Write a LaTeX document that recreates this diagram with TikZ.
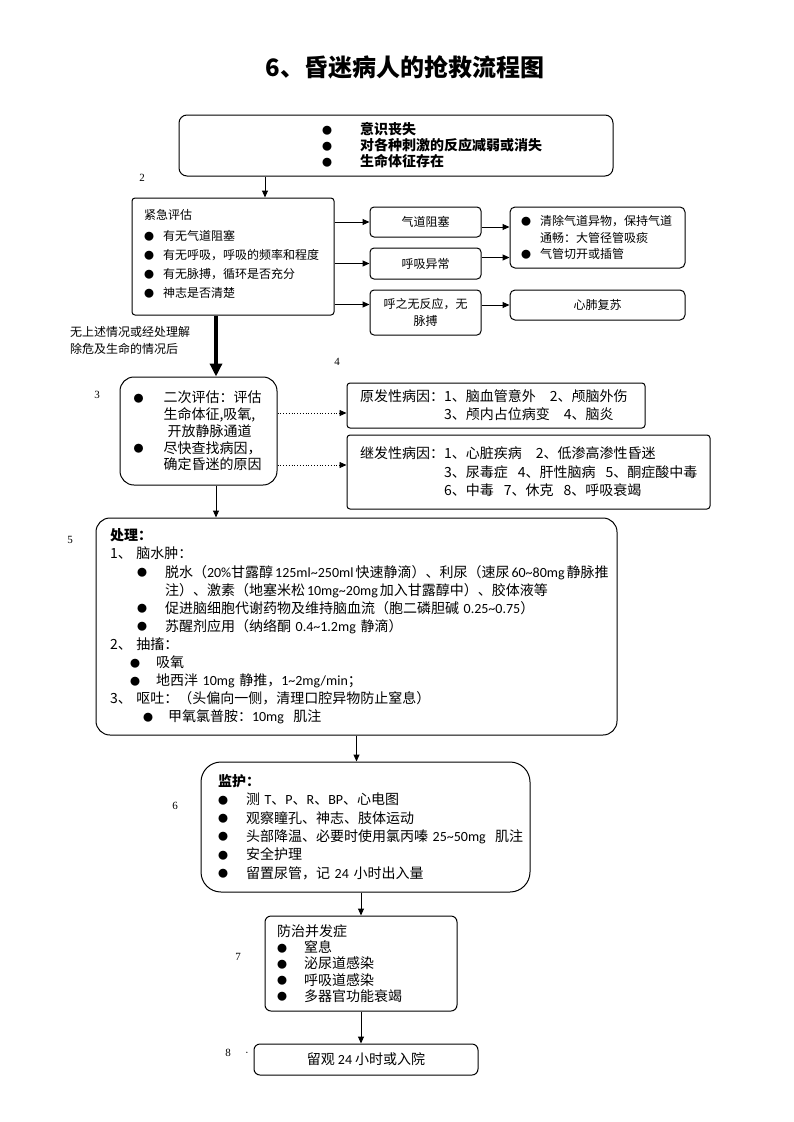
\documentclass[tikz,border=0pt]{standalone}
\usepackage{fontspec}
\setmainfont{Noto Sans CJK SC}
\newfontfamily\numfont{Liberation Serif}
\newfontfamily\carl{Carlito}
\usetikzlibrary{arrows.meta, positioning}
\newcommand{\bul}[1]{\makebox[#1][l]{\raisebox{0.5pt}{\fontsize{10}{10}\selectfont ●}}}
\newcommand{\tld}{\textasciitilde}
\newcommand{\lat}[1]{{\carl #1}}

\begin{document}
\begin{tikzpicture}[x=1pt, y=-1pt,
  frame/.style={draw, line width=1pt, rounded corners=#1, inner ysep=0pt, align=left},
  frame/.default=3pt,
  small/.style={frame=4pt, align=center, font=\fontsize{12}{17}\selectfont},
  arr/.style={-{Triangle[length=7pt,width=6pt]}, line width=1pt},
  bigarr/.style={-{Triangle[length=13pt,width=12pt]}, line width=4pt},
  dotarr/.style={-{Triangle[length=7pt,width=6pt]}, line width=0.8pt, dotted},
  numlabel/.style={font=\numfont\fontsize{11}{11}\selectfont, inner sep=0pt}]
  \useasboundingbox (0,0) rectangle (793,1122);

  % Title
  \node[font=\bfseries\fontsize{24}{28}\selectfont] (title) at (405,67) {6、昏迷病人的抢救流程图};

  % Onset signs
  \node[frame=8pt, minimum width=434pt, minimum height=61pt, text width=414pt, inner xsep=10pt,
        font=\bfseries\fontsize{14}{16}\selectfont] (onset) at (396,145.5) {%
    \hspace*{133pt}\bul{38pt}意识丧失\\
    \hspace*{133pt}\bul{38pt}对各种刺激的反应减弱或消失\\
    \hspace*{133pt}\bul{38pt}生命体征存在};

  % Emergency assessment
  \node[frame=3pt, minimum width=202pt, minimum height=117pt, text width=178pt, inner xsep=12pt,
        font=\fontsize{12}{19}\selectfont] (urgent) at (233,256.5) {%
    紧急评估\\[2pt]
    \bul{19pt}有无气道阻塞\\
    \bul{19pt}有无呼吸，呼吸的频率和程度\\
    \bul{19pt}有无脉搏，循环是否充分\\
    \bul{19pt}神志是否清楚\rule[-6pt]{0pt}{0pt}};

  \node[small, minimum width=111pt, minimum height=30pt] (airway) at (425.5,222) {气道阻塞};
  \node[small, minimum width=111pt, minimum height=31pt] (breath) at (425.5,263.5) {呼吸异常};
  \node[small, minimum width=111pt, minimum height=45pt] (nopulse) at (425.5,312.5) {呼之无反应，无\\脉搏};

  \node[frame=5pt, minimum width=175pt, minimum height=61pt, text width=153pt, inner xsep=11pt,
        font=\fontsize{12}{16.5}\selectfont] (clear) at (597.5,237.5) {%
    \bul{19pt}清除气道异物，保持气道\\
    \hspace*{19pt}通畅：大管径管吸痰\\
    \bul{19pt}气管切开或插管};
  \node[small, frame=5pt, minimum width=175pt, minimum height=30pt] (cpr) at (597.5,305) {心肺复苏};

  \node[anchor=north west, align=left, inner sep=0pt, font=\fontsize{12}{17}\selectfont] (nolife) at (70,326) {%
    无上述情况或经处理解\\除危及生命的情况后};

  % Secondary assessment
  \node[frame=14pt, minimum width=157pt, minimum height=108pt, text width=130pt, inner xsep=13.5pt,
        font=\fontsize{14}{16.75}\selectfont] (second) at (198.5,431) {%
    \bul{30pt}二次评估：评估\\
    \hspace*{30pt}生命体征,吸氧,\\
    \hspace*{34pt}开放静脉通道\\
    \bul{30pt}尽快查找病因，\\
    \hspace*{30pt}确定昏迷的原因};

  \node[frame=3pt, minimum width=298pt, minimum height=45pt, text width=272pt, inner xsep=13pt,
        font=\fontsize{14}{18}\selectfont] (primary) at (496,405.5) {%
    \mbox{原发性病因：1、脑血管意外\hspace{14pt}2、颅脑外伤}\\
    \mbox{\hspace*{84pt}3、颅内占位病变\hspace{14pt}4、脑炎}};
  \node[frame=3pt, minimum width=363pt, minimum height=74pt, text width=337pt, inner xsep=13pt,
        font=\fontsize{14}{18.5}\selectfont] (secondary) at (528.5,472) {%
    \mbox{继发性病因：1、心脏疾病\hspace{14pt}2、低渗高渗性昏迷}\\
    \mbox{\hspace*{84pt}3、尿毒症\hspace{10pt}4、肝性脑病\hspace{10pt}5、酮症酸中毒}\\
    \mbox{\hspace*{84pt}6、中毒\hspace{10pt}7、休克\hspace{10pt}8、呼吸衰竭}};

  % Treatment
  \node[frame=14pt, minimum width=521pt, minimum height=217pt, text width=493pt, inner xsep=14pt,
        font=\fontsize{14}{18.1}\selectfont] (treat) at (356.5,626.5) {%
    {\bfseries 处理：}\\
    1、 脑水肿：\\
    \mbox{\hspace*{27pt}\bul{28pt}脱水（\lat{20\%}甘露醇\hspace{2pt}\lat{125ml\tld 250ml}\hspace{2pt}快速静滴）、利尿（速尿\hspace{2pt}\lat{60\tld 80mg}\hspace{2pt}静脉推}\\
    \mbox{\hspace*{55pt}注）、激素（地塞米松\hspace{2pt}\lat{10mg\tld 20mg}\hspace{2pt}加入甘露醇中）、胶体液等}\\
    \mbox{\hspace*{27pt}\bul{28pt}促进脑细胞代谢药物及维持脑血流（胞二磷胆碱 \lat{0.25\tld 0.75}）}\\
    \mbox{\hspace*{27pt}\bul{28pt}苏醒剂应用（纳络酮 \lat{0.4\tld 1.2mg} 静滴）}\\
    2、 抽搐：\\
    \hspace*{20pt}\bul{26pt}吸氧\\
    \mbox{\hspace*{20pt}\bul{26pt}地西泮 \lat{10mg} 静推，\lat{1\tld 2mg/min}；}\\
    3、 呕吐：（头偏向一侧，清理口腔异物防止窒息）\\
    \mbox{\hspace*{33pt}\bul{25pt}甲氧氯普胺：\lat{10mg}\ \ 肌注}};

  % Monitoring
  \node[frame=20pt, minimum width=329pt, minimum height=130pt, text width=295pt, inner xsep=17pt,
        font=\fontsize{14}{18.4}\selectfont] (monitor) at (365.5,827) {%
    {\bfseries 监护：}\\
    \mbox{\bul{28pt}测 \lat{T}、\lat{P}、\lat{R}、\lat{BP}、心电图}\\
    \bul{28pt}观察瞳孔、神志、肢体运动\\
    \mbox{\bul{28pt}头部降温、必要时使用氯丙嗪 \lat{25\tld 50mg}\ \ 肌注}\\
    \bul{28pt}安全护理\\
    \mbox{\bul{28pt}留置尿管，记 \lat{24} 小时出入量}};

  % Complications
  \node[frame=6pt, minimum width=192pt, minimum height=95pt, text width=168pt, inner xsep=12pt,
        font=\fontsize{14}{16.25}\selectfont] (prevent) at (361,963.5) {%
    防治并发症\\
    \bul{27pt}窒息\\
    \bul{27pt}泌尿道感染\\
    \bul{27pt}呼吸道感染\\
    \bul{27pt}多器官功能衰竭};

  \node[frame=6pt, align=center, minimum width=224pt, minimum height=31pt,
        font=\fontsize{14}{16}\selectfont] (observe) at (366,1059.5) {留观 \lat{24} 小时或入院};

  % Step numbers
  \foreach \n/\px/\py in {2/142/178, 3/97/395, 4/337/362, 5/70/540, 6/175/806, 7/238/957, 8/228/1053}
    \node[numlabel] (num\n) at (\px,\py) {\n};
  \node[numlabel] (dot8) at (247,1054) {·};

  % Connectors
  \coordinate (upx) at ([xshift=-131pt]onset.south);
  \draw[arr] (upx) -- (upx |- urgent.north);
  \draw[arr] (urgent.east |- airway.west) -- (airway.west);
  \draw[arr] (urgent.east |- breath.west) -- (breath.west);
  \coordinate (np) at ([yshift=8pt]nopulse.west);
  \draw[arr] (urgent.east |- np) -- (np);
  \coordinate (aw) at ([yshift=-5pt]airway.east);
  \draw[arr] (aw) -- (aw -| clear.west);
  \coordinate (bw) at ([yshift=6pt]breath.east);
  \draw[arr] (bw) -- (bw -| clear.west);
  \draw[arr] (nopulse.east |- cpr.west) -- (cpr.west);

  \coordinate (midx) at ([xshift=-17pt]urgent.south);
  \draw[bigarr] (midx) -- (midx |- second.north);
  \coordinate (d1) at ([yshift=18pt]second.east);
  \draw[dotarr] (d1) -- (d1 -| primary.west);
  \coordinate (d2) at ([yshift=-34pt]second.east);
  \draw[dotarr] (d2) -- (d2 -| secondary.west);
  \draw[arr] (midx |- second.south) -- (midx |- treat.north);

  \draw[arr] (treat.south) -- (treat.south |- monitor.north);
  \draw[arr] (prevent.north |- monitor.south) -- (prevent.north);
  \draw[arr] (prevent.south) -- (prevent.south |- observe.north);
\end{tikzpicture}
\end{document}
